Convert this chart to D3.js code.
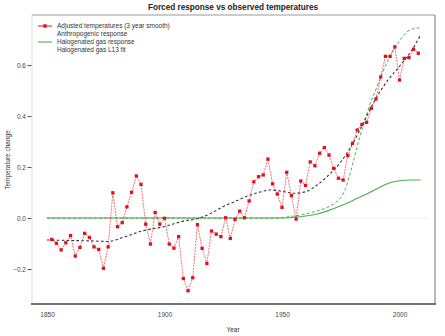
<!DOCTYPE html>
<html>
<head>
<meta charset="utf-8">
<script src="https://cdn.jsdelivr.net/npm/d3@7"></script>
<style>
  html, body { margin: 0; padding: 0; background: #fff; }
  svg { display: block; font-family: "Liberation Sans", Arial, sans-serif; }
</style>
</head>
<body>
<svg id="chart" width="445" height="336"></svg>
<script>
// ---- Data ----
const obsYears = [1852,1854,1856,1858,1860,1862,1864,1866,1868,1870,1872,1874,1876,1878,1880,1882,1884,1886,1888,1890,
  1892,1894,1896,1898,1900,1902,1904,1906,1908,1910,1912,1914,1916,1918,1920,1922,1924,1926,1928,1930,
  1932,1934,1936,1938,1940,1942,1944,1946,1948,1950,1952,1954,1956,1958,1960,1962,1964,1966,1968,1970,
  1972,1974,1976,1978,1980,1982,1984,1986,1988,1990,1992,1994,1996,1998,2000,2002,2004,2006,2008];
const obsValues = [-0.084,-0.099,-0.125,-0.097,-0.069,-0.149,-0.115,-0.060,-0.076,-0.113,-0.123,-0.197,-0.113,0.099,-0.034,-0.018,0.044,0.101,0.165,0.132,
  -0.024,-0.102,0.022,-0.024,-0.001,-0.102,-0.118,-0.073,-0.237,-0.285,-0.234,-0.026,-0.119,-0.178,-0.051,-0.063,-0.073,0.001,-0.080,-0.005,
  0.027,0.001,0.067,0.142,0.162,0.169,0.231,0.134,0.094,0.042,0.179,0.088,-0.004,0.145,0.128,0.220,0.205,0.254,0.276,0.247,
  0.195,0.156,0.149,0.245,0.293,0.345,0.367,0.375,0.430,0.467,0.553,0.634,0.634,0.671,0.541,0.626,0.629,0.662,0.646];

const anthroYears = [1850,1860,1870,1876,1882,1890,1900,1908,1915,1920,1925,1930,1935,1940,1945,1950,1955,1960,1965,1970,1975,1980,1985,1990,1995,2000,2005,2009];
const anthroValues = [-0.086,-0.088,-0.090,-0.092,-0.077,-0.052,-0.033,-0.012,0.000,0.020,0.045,0.065,0.085,0.100,0.110,0.105,0.097,0.103,0.130,0.170,0.220,0.290,0.380,0.470,0.540,0.595,0.655,0.718];

const haloYears = [1850,1900,1950,1955,1960,1965,1970,1975,1980,1985,1990,1995,2000,2005,2009];
const haloValues = [0,0,0,0.003,0.008,0.016,0.030,0.048,0.068,0.090,0.113,0.135,0.146,0.149,0.149];

const fitYears = [1850,1900,1945,1950,1955,1960,1965,1970,1973,1975,1977,1979,1981,1983,1985,1987,1990,1993,1996,2000,2004,2008,2009];
const fitValues = [0,0,0,0.002,0.008,0.016,0.028,0.045,0.062,0.080,0.115,0.175,0.245,0.315,0.375,0.435,0.505,0.575,0.635,0.695,0.735,0.745,0.738];

const yTicks = [-0.2, 0.0, 0.2, 0.4, 0.6];
const xTicks = [1850, 1900, 1950, 2000];

const legendLabels = ["Adjusted temperatures (3 year smooth)", "Anthropogenic response", "Halogenated gas response", "Halogenated gas L13 fit"];

// ---- Layout ----
const svg = d3.select("#chart");
const L = 32, R = 435, T = 15, B = 304;
const x = d3.scaleLinear().domain([1843.6, 2015.1]).range([L, R]);
const y = d3.scaleLinear().domain([-0.337, 0.796]).range([B, T]);

const RED = "#e3101b", GREEN = "#4cae4c", BLACK = "#333";

// title
svg.append("text").attr("x", 233).attr("y", 10).attr("text-anchor", "middle")
  .attr("font-size", 8.2).attr("font-weight", "bold").attr("fill", "#222")
  .text("Forced response vs observed temperatures");

// frame
svg.append("line").attr("x1", L).attr("x2", R).attr("y1", T).attr("y2", T).attr("stroke", "#999").attr("stroke-width", 1);
svg.append("line").attr("x1", R).attr("x2", R).attr("y1", T).attr("y2", B).attr("stroke", "#777").attr("stroke-width", 1);
svg.append("line").attr("x1", L).attr("x2", L).attr("y1", T).attr("y2", B).attr("stroke", "#ddd").attr("stroke-width", 1);
svg.append("line").attr("x1", L - 1).attr("x2", R + 1).attr("y1", B).attr("y2", B).attr("stroke", "#444").attr("stroke-width", 1.5);

// zero line
svg.append("line").attr("x1", x(1849)).attr("x2", x(2012.5)).attr("y1", y(0)).attr("y2", y(0))
  .attr("stroke", "#eee").attr("stroke-width", 1);

// y axis
const yAxis = d3.axisLeft(y).tickValues(yTicks).tickFormat(d3.format(".1f")).tickSize(4).tickPadding(1.5);
const gy = svg.append("g").attr("transform", `translate(${L - 0.5},0)`).call(yAxis);
gy.select(".domain").remove();
gy.selectAll("line").attr("stroke", "#555");
gy.selectAll("text").attr("font-size", 6.5).attr("fill", "#444").attr("font-family", "Liberation Sans, Arial, sans-serif");

// x axis (labels only)
const xAxis = d3.axisBottom(x).tickValues(xTicks).tickFormat(d3.format("d")).tickSize(0).tickPadding(8);
const gx = svg.append("g").attr("transform", `translate(0,${B})`).call(xAxis);
gx.select(".domain").remove();
gx.selectAll("text").attr("font-size", 6.5).attr("fill", "#444").attr("font-family", "Liberation Sans, Arial, sans-serif");

// axis titles
svg.append("text").attr("x", 233).attr("y", 332).attr("text-anchor", "middle")
  .attr("font-size", 6.5).attr("fill", "#333").text("Year");
svg.append("text").attr("transform", "translate(10,160) rotate(-90)").attr("text-anchor", "middle")
  .attr("font-size", 6.5).attr("fill", "#333").text("Temperature change");

// lines
const line = d3.line().x(d => x(d[0])).y(d => y(d[1]));
const smooth = d3.line().x(d => x(d[0])).y(d => y(d[1])).curve(d3.curveMonotoneX);

svg.append("path").datum(haloYears.map((v, i) => [v, haloValues[i]]))
  .attr("d", smooth).attr("fill", "none").attr("stroke", GREEN).attr("stroke-width", 1.1);

svg.append("path").datum(fitYears.map((v, i) => [v, fitValues[i]]))
  .attr("d", smooth).attr("fill", "none").attr("stroke", GREEN).attr("stroke-width", 1)
  .attr("stroke-dasharray", "3,2.2");

svg.append("path").datum(anthroYears.map((v, i) => [v, anthroValues[i]]))
  .attr("d", smooth).attr("fill", "none").attr("stroke", BLACK).attr("stroke-width", 1.1)
  .attr("stroke-dasharray", "2.6,2.3");

const obs = obsYears.map((v, i) => [v, obsValues[i]]);
svg.append("path").datum(obs).attr("d", line).attr("fill", "none")
  .attr("stroke", RED).attr("stroke-width", 0.7).attr("stroke-opacity", 0.85).attr("stroke-dasharray", "2,1");
svg.append("g").selectAll("rect").data(obs).join("rect")
  .attr("x", d => x(d[0]) - 1.65).attr("y", d => y(d[1]) - 1.65)
  .attr("width", 3.3).attr("height", 3.3).attr("fill", RED);

// legend
const lg = svg.append("g");
const rowY = [26, 34, 42, 50];
lg.append("line").attr("x1", 38).attr("x2", 52).attr("y1", rowY[0]).attr("y2", rowY[0]).attr("stroke", RED).attr("stroke-width", 1);
lg.append("rect").attr("x", 43.3).attr("y", rowY[0] - 1.7).attr("width", 3.4).attr("height", 3.4).attr("fill", RED);
lg.append("line").attr("x1", 38).attr("x2", 52).attr("y1", rowY[2]).attr("y2", rowY[2]).attr("stroke", GREEN).attr("stroke-width", 1.1);
lg.selectAll("text").data(legendLabels).join("text")
  .attr("x", 57).attr("y", (d, i) => rowY[i] + 2.3)
  .attr("font-size", 6.5).attr("fill", "#333").text(d => d);
</script>
</body>
</html>
